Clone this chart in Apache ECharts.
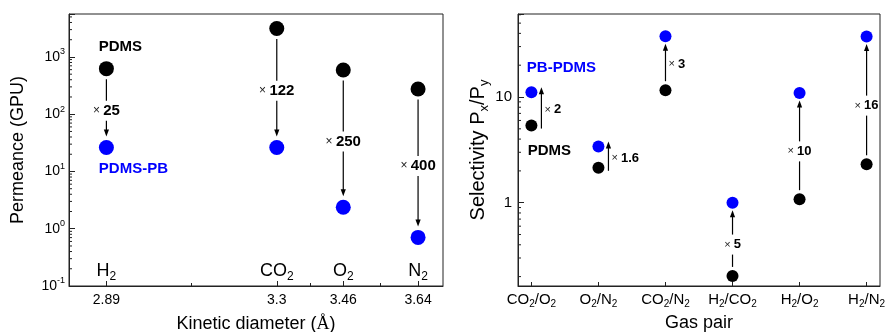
<!DOCTYPE html>
<html><head><meta charset="utf-8">
<script src="https://cdn.jsdelivr.net/npm/echarts@6/dist/echarts.min.js"></script>
<style>html,body{margin:0;padding:0;background:#fff}#c{width:886px;height:332px}</style>
</head><body><div id="c"></div>
<script>
// ---- Left panel: permeance vs kinetic diameter ----
const gases = ['H2', 'CO2', 'O2', 'N2'];
const kineticDiameters = [2.89, 3.3, 3.46, 3.64];
const permeancePDMS = [624, 3130, 592, 275];
const permeancePDMSPB = [26.2, 26.2, 2.37, 0.706];
const permeanceFactors = ['25', '122', '250', '400'];
const kineticMinorTicks = [3.095, 3.38, 3.55];

// ---- Right panel: selectivity per gas pair ----
const gasPairs = ['CO2/O2', 'O2/N2', 'CO2/N2', 'H2/CO2', 'H2/O2', 'H2/N2'];
const pairIndex = [0, 1, 2, 3, 4, 5];
const selectivityPDMS = [5.37, 2.14, 11.6, 0.203, 1.08, 2.31];
const selectivityPBPDMS = [11.1, 3.40, 37.6, 1.0, 10.9, 37.4];
const selectivityFactors = ['2', '1.6', '3', '5', '10', '16'];

// axis ranges
const leftX = [2.8, 3.7];
const leftY = [0.1, 5623];
const rightX = [-0.2, 5.2];
const rightY = [0.163, 61];

const FONT = '"Liberation Sans", Arial, sans-serif';
const BLUE = '#0000ff';
const INK = '#000';

function subFmt(s) { return s.replace(/(\d)/g, '{s|$1}'); }
function isPow10(v) { const e = Math.log10(v); return Math.abs(e - Math.round(e)) < 1e-6; }
function logMinor(lo, hi) {
  const out = [];
  for (let d = -2; d <= 4; d++) for (let m = 2; m <= 9; m++) {
    const v = m * Math.pow(10, d);
    if (v > lo && v < hi) out.push(v);
  }
  return out;
}

function minorTickSeries(xi, yi, xmin, vals) {
  return {
    type: 'custom', xAxisIndex: xi, yAxisIndex: yi, silent: true, clip: false, z: 3,
    data: vals.map(v => [xmin, v]),
    renderItem: (p, api) => {
      const pt = api.coord([api.value(0), api.value(1)]);
      return { type: 'line', shape: { x1: pt[0], y1: pt[1], x2: pt[0] + 3, y2: pt[1] },
               style: { stroke: '#222', lineWidth: 1 } };
    }
  };
}

function arrowSeries(xi, yi, xs, a, b, labels, cfg) {
  return {
    type: 'custom', xAxisIndex: xi, yAxisIndex: yi, silent: true, clip: false, z: 1,
    data: xs.map((x, i) => [x, a[i], b[i]]),
    renderItem: (params, api) => {
      const i = params.dataIndex;
      const pA = api.coord([api.value(0), api.value(1)]);
      const pB = api.coord([api.value(0), api.value(2)]);
      const dir = pB[1] > pA[1] ? 1 : -1;
      const mode = cfg.mode[i], dx = cfg.dx[i];
      const s0 = dx ? cfg.s0off : cfg.s0, s1 = dx ? cfg.s1off : cfg.s1;
      const x = pA[0] + dx;
      const start = pA[1] + dir * s0;
      const tip = pB[1] - dir * s1;
      const headLen = 7, headW = 2.6;
      const lineEnd = tip - dir * (headLen - 1);
      const children = [];
      const ls = { stroke: INK, lineWidth: 1.2 };
      const text = '{x|×} {n|' + labels[i] + '}';
      const rich = { x: { fontSize: cfg.xSize, fill: '#222', fontFamily: FONT },
                     n: { fontSize: cfg.nSize, fontWeight: 'bold', fill: INK, fontFamily: FONT } };
      if (mode === 'gap') {
        const c = (start + tip) / 2 + cfg.shift;
        children.push({ type: 'line', shape: { x1: x, y1: start, x2: x, y2: c - dir * cfg.gap }, style: ls });
        children.push({ type: 'line', shape: { x1: x, y1: c + dir * cfg.gap, x2: x, y2: lineEnd }, style: ls });
        children.push({ type: 'text', style: { text, x: x, y: c, align: 'center', verticalAlign: 'middle',
          fontSize: cfg.xSize, fontFamily: FONT, fill: INK, rich } });
      } else {
        children.push({ type: 'line', shape: { x1: x, y1: start, x2: x, y2: lineEnd }, style: ls });
        children.push({ type: 'text', style: { text, x: x + 3, y: (pA[1] + pB[1]) / 2 + cfg.sideShift, align: 'left', verticalAlign: 'middle',
          fontSize: cfg.xSize, fontFamily: FONT, fill: INK, rich } });
      }
      children.push({ type: 'polygon', shape: { points: [[x, tip], [x - headW, tip - dir * headLen], [x + headW, tip - dir * headLen]] },
        style: { fill: INK } });
      return { type: 'group', children };
    }
  };
}

const axisLineStyle = { color: '#222', width: 1 };
const subRich = (size, sub) => ({ s: { fontSize: sub, padding: [Math.round(size * 0.6), 0, 0, 0], color: INK, fontFamily: FONT } });
const supRich = { p: { fontSize: 9, padding: [0, 0, 10, 0], color: INK, fontFamily: FONT } };

const chart = echarts.init(document.getElementById('c'));
const option = {
  animation: false,
  textStyle: { fontFamily: FONT },
  grid: [
    { left: 69, top: 14, width: 374, height: 272, show: true, borderColor: '#222', borderWidth: 1, containLabel: false, outerBoundsMode: 'none' },
    { left: 518, top: 14, width: 362, height: 272, show: true, borderColor: '#222', borderWidth: 1, containLabel: false, outerBoundsMode: 'none' }
  ],
  xAxis: [
    { gridIndex: 0, type: 'value', min: leftX[0], max: leftX[1], position: 'bottom',
      axisLine: { show: true, onZero: false, lineStyle: axisLineStyle },
      axisTick: { show: true, inside: true, length: 5, customValues: kineticDiameters, lineStyle: axisLineStyle },
      axisLabel: { show: true, customValues: kineticDiameters, fontSize: 14, color: INK, margin: 7, formatter: v => String(v) },
      splitLine: { show: false },
      name: 'Kinetic diameter ({a|Å})', nameLocation: 'middle', nameGap: 29,
      nameTextStyle: { fontSize: 18, color: INK, rich: { a: { fontSize: 18, color: INK, fontFamily: '"Liberation Serif", "DejaVu Serif", serif' } } } },
    { gridIndex: 0, type: 'value', min: leftX[0], max: leftX[1], position: 'bottom', offset: 0,
      axisLine: { show: false, onZero: false },
      axisTick: { show: true, inside: true, length: 3, customValues: kineticMinorTicks, lineStyle: axisLineStyle },
      axisLabel: { show: false }, splitLine: { show: false } },
    { gridIndex: 1, type: 'value', min: rightX[0], max: rightX[1], position: 'bottom',
      axisLine: { show: true, onZero: false, lineStyle: axisLineStyle },
      axisTick: { show: true, inside: true, length: 4, customValues: pairIndex, lineStyle: axisLineStyle },
      axisLabel: { show: true, customValues: pairIndex, fontSize: 15, color: INK, margin: 4,
        formatter: v => subFmt(gasPairs[Math.round(v)]), rich: subRich(15, 10) },
      splitLine: { show: false },
      name: 'Gas pair', nameLocation: 'middle', nameGap: 28, nameTextStyle: { fontSize: 18, color: INK } }
  ],
  yAxis: [
    { gridIndex: 0, type: 'log', logBase: 10, min: leftY[0], max: leftY[1], position: 'left',
      axisLine: { show: true, onZero: false, lineStyle: axisLineStyle },
      axisTick: { show: true, inside: true, length: 6, lineStyle: axisLineStyle },
      axisLabel: { show: true, fontSize: 14, color: INK, margin: 4, rich: supRich,
        formatter: v => isPow10(v) ? '10{p|' + Math.round(Math.log10(v)) + '}' : '' },
      splitLine: { show: false },
      name: 'Permeance (GPU)', nameLocation: 'middle', nameGap: 42, nameTextStyle: { fontSize: 18, color: INK } },
    { gridIndex: 1, type: 'log', logBase: 10, min: rightY[0], max: rightY[1], position: 'left',
      axisLine: { show: true, onZero: false, lineStyle: axisLineStyle },
      axisTick: { show: true, inside: true, length: 6, lineStyle: axisLineStyle },
      axisLabel: { show: true, fontSize: 15, color: INK, margin: 6,
        formatter: v => isPow10(v) ? String(Math.round(v)) : '' },
      splitLine: { show: false },
      name: 'Selectivity P{s|x}/P{s|y}', nameLocation: 'middle', nameGap: 27,
      nameTextStyle: { fontSize: 20, color: INK, rich: subRich(20, 13) } }
  ],
  series: [
    minorTickSeries(0, 0, leftX[0], logMinor(leftY[0], leftY[1])),
    minorTickSeries(2, 1, rightX[0], logMinor(rightY[0], rightY[1])),
    arrowSeries(0, 0, kineticDiameters, permeancePDMS, permeancePDMSPB, permeanceFactors,
      { mode: ['gap', 'gap', 'gap', 'gap'], dx: [0, 0, 0, 0], s0: 10.5, s1: 11, s0off: 0, s1off: 0,
        gap: 10, shift: 3, sideShift: 0, xSize: 12, nSize: 15 }),
    arrowSeries(2, 1, pairIndex, selectivityPDMS, selectivityPBPDMS, selectivityFactors,
      { mode: ['side', 'side', 'side', 'gap', 'gap', 'gap'], dx: [10, 10, 0, 0, 0, 0], s0: 9, s1: 7.5, s0off: -3, s1off: -5,
        gap: 10, shift: 6, sideShift: 1, xSize: 11, nSize: 13 }),
    // gas names inside the left plot
    { type: 'scatter', xAxisIndex: 0, yAxisIndex: 0, symbolSize: 0, silent: true, clip: false,
      itemStyle: { opacity: 1 },
      data: kineticDiameters.map((x, i) => ({ value: [x, leftY[0]], name: gases[i] })),
      label: { show: true, position: 'top', distance: 3, fontSize: 18, color: INK,
        formatter: p => subFmt(p.name), rich: subRich(18, 12) } },
    { type: 'scatter', name: 'PDMS', xAxisIndex: 0, yAxisIndex: 0, symbolSize: 15, z: 2, clip: false,
      itemStyle: { color: '#000', opacity: 1 },
      data: kineticDiameters.map((x, i) => i === 0
        ? { value: [x, permeancePDMS[i]], label: { show: true, position: 'top', distance: 7, offset: [14, 0],
            formatter: 'PDMS', fontSize: 15, fontWeight: 'bold', color: '#000' } }
        : [x, permeancePDMS[i]]) },
    { type: 'scatter', name: 'PDMS-PB', xAxisIndex: 0, yAxisIndex: 0, symbolSize: 15, z: 2, clip: false,
      itemStyle: { color: BLUE, opacity: 1 },
      data: kineticDiameters.map((x, i) => i === 0
        ? { value: [x, permeancePDMSPB[i]], label: { show: true, position: 'bottom', distance: 6, offset: [27, 0],
            formatter: 'PDMS-PB', fontSize: 15, fontWeight: 'bold', color: BLUE } }
        : [x, permeancePDMSPB[i]]) },
    { type: 'scatter', name: 'PDMS', xAxisIndex: 2, yAxisIndex: 1, symbolSize: 12, z: 2, clip: false,
      itemStyle: { color: '#000', opacity: 1 },
      data: pairIndex.map((x, i) => i === 0
        ? { value: [x, selectivityPDMS[i]], label: { show: true, position: 'bottom', distance: 12, offset: [18, 0],
            formatter: 'PDMS', fontSize: 15, fontWeight: 'bold', color: '#000' } }
        : [x, selectivityPDMS[i]]) },
    { type: 'scatter', name: 'PB-PDMS', xAxisIndex: 2, yAxisIndex: 1, symbolSize: 12, z: 2, clip: false,
      itemStyle: { color: BLUE, opacity: 1 },
      data: pairIndex.map((x, i) => i === 0
        ? { value: [x, selectivityPBPDMS[i]], label: { show: true, position: 'top', distance: 11, offset: [30, 0],
            formatter: 'PB-PDMS', fontSize: 15, fontWeight: 'bold', color: BLUE } }
        : [x, selectivityPBPDMS[i]]) }
  ]
};
chart.setOption(option);
</script>
</body></html>
